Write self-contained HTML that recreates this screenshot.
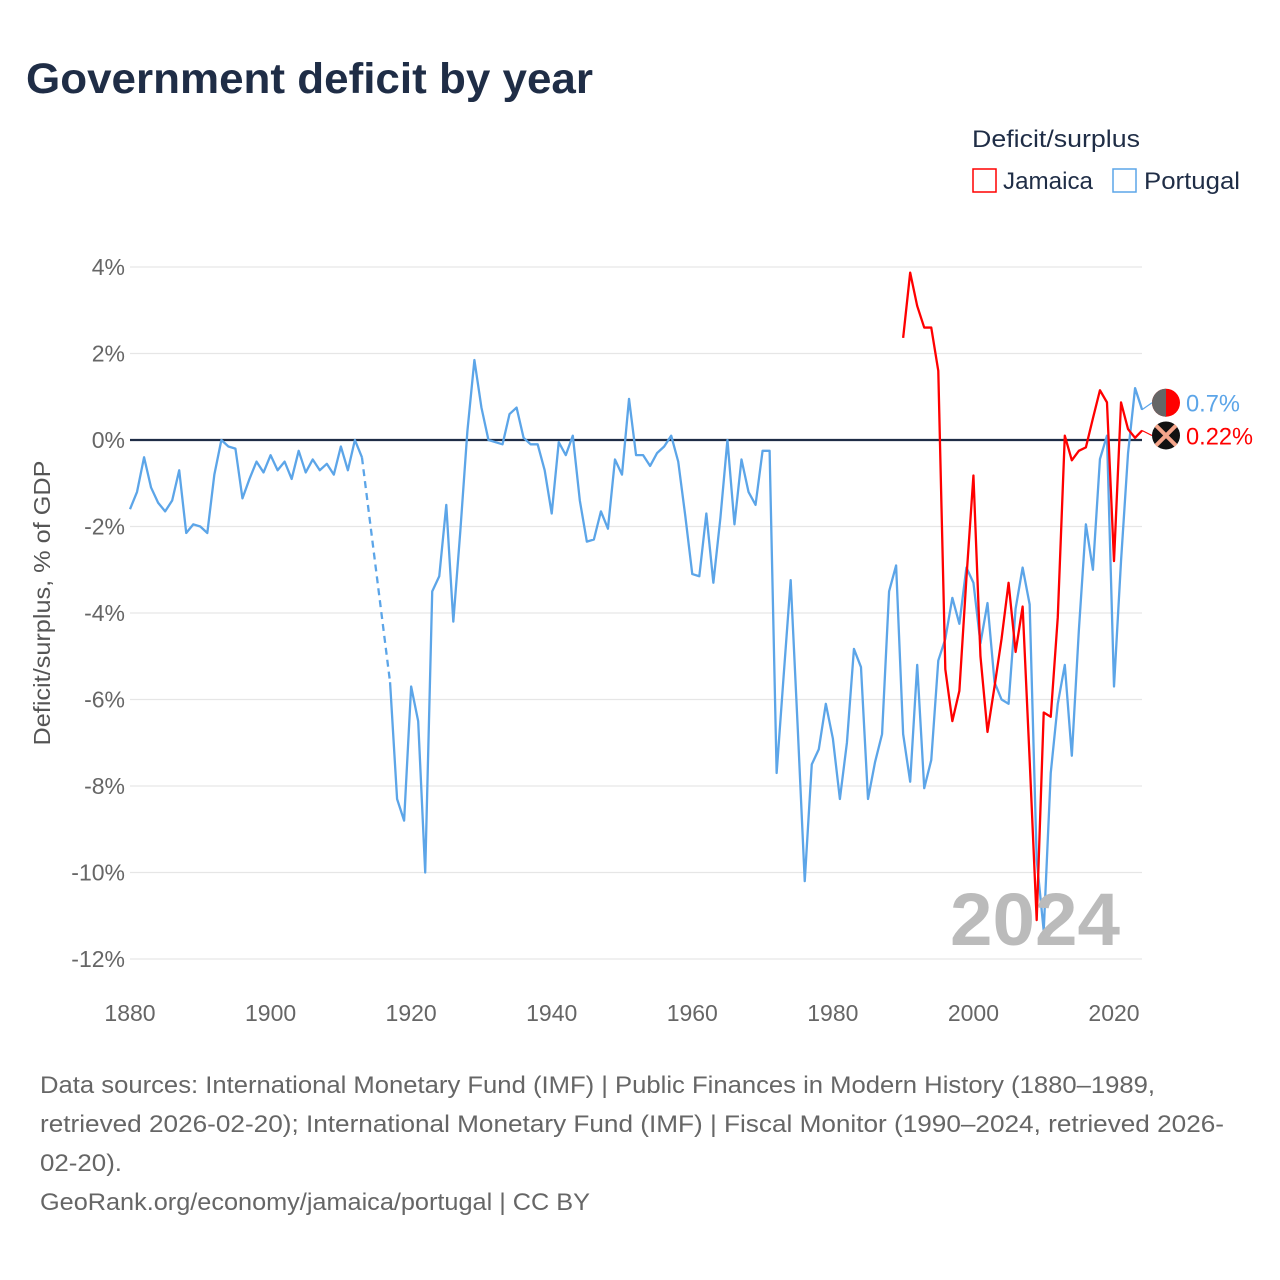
<!DOCTYPE html>
<html><head><meta charset="utf-8">
<style>
body{margin:0;background:#fff;width:1280px;height:1280px;overflow:hidden;font-family:"Liberation Sans",sans-serif;}
svg{position:absolute;left:0;top:0}
</style></head>
<body>
<svg id="chart" width="1280" height="1280">
<text x="26" y="93" font-size="43" font-weight="bold" fill="#1f2d46" textLength="567" lengthAdjust="spacingAndGlyphs">Government deficit by year</text>
<text x="972" y="147" font-size="24" fill="#1f2d46" textLength="168" lengthAdjust="spacingAndGlyphs">Deficit/surplus</text>
<g><rect x="973" y="169" width="23" height="23" fill="none" stroke="#f00" stroke-width="1.5"/><text x="1003" y="189" font-size="24" fill="#1f2d46" textLength="90" lengthAdjust="spacingAndGlyphs">Jamaica</text></g>
<g><rect x="1113" y="169" width="23" height="23" fill="none" stroke="#5ca5e8" stroke-width="1.5"/><text x="1144" y="189" font-size="24" fill="#1f2d46" textLength="96" lengthAdjust="spacingAndGlyphs">Portugal</text></g>
<text transform="translate(50,603) rotate(-90)" text-anchor="middle" font-size="23" fill="#555" textLength="285" lengthAdjust="spacingAndGlyphs">Deficit/surplus, % of GDP</text>
<g id="grid"></g><g id="series"></g>
<text x="950" y="945" font-size="74" font-weight="bold" fill="#bbb" textLength="170" lengthAdjust="spacingAndGlyphs">2024</text>
<g id="ends"></g>
<g font-size="24" fill="#666">
<text x="40" y="1093" textLength="1115" lengthAdjust="spacingAndGlyphs">Data sources: International Monetary Fund (IMF) | Public Finances in Modern History (1880–1989,</text>
<text x="40" y="1132" textLength="1184" lengthAdjust="spacingAndGlyphs">retrieved 2026-02-20); International Monetary Fund (IMF) | Fiscal Monitor (1990–2024, retrieved 2026-</text>
<text x="40" y="1171" textLength="82" lengthAdjust="spacingAndGlyphs">02-20).</text>
<text x="40" y="1210" textLength="550" lengthAdjust="spacingAndGlyphs">GeoRank.org/economy/jamaica/portugal | CC BY</text>
</g>
</svg>
<script>
const yTicks=[4,2,0,-2,-4,-6,-8,-10,-12];
const xTicks=[1880,1900,1920,1940,1960,1980,2000,2020];
const ptStart=1880;
const portugal=[-1.6,-1.2,-0.4,-1.1,-1.45,-1.65,-1.4,-0.7,-2.15,-1.95,-2.0,-2.15,-0.8,0,-0.15,-0.2,-1.35,-0.9,-0.5,-0.75,-0.35,-0.7,-0.5,-0.9,-0.25,-0.75,-0.45,-0.7,-0.55,-0.8,-0.15,-0.7,0,-0.4,null,null,null,-5.6,-8.3,-8.8,-5.7,-6.5,-10,-3.5,-3.15,-1.5,-4.2,-2.1,0.2,1.85,0.75,0,-0.05,-0.1,0.6,0.75,0.05,-0.1,-0.1,-0.7,-1.7,-0.05,-0.35,0.1,-1.4,-2.35,-2.3,-1.65,-2.05,-0.45,-0.8,0.95,-0.35,-0.35,-0.6,-0.3,-0.15,0.1,-0.5,-1.75,-3.1,-3.15,-1.7,-3.3,-1.8,0,-1.95,-0.45,-1.2,-1.5,-0.25,-0.25,-7.7,-5.45,-3.24,-6.65,-10.2,-7.5,-7.15,-6.1,-6.9,-8.3,-7.0,-4.83,-5.25,-8.3,-7.45,-6.8,-3.5,-2.9,-6.8,-7.9,-5.2,-8.05,-7.4,-5.1,-4.6,-3.65,-4.25,-2.95,-3.3,-4.7,-3.77,-5.6,-6.0,-6.1,-3.9,-2.95,-3.8,-9.7,-11.35,-7.7,-6.1,-5.2,-7.3,-4.4,-1.95,-3.0,-0.44,0.1,-5.7,-2.8,-0.3,1.2,0.7];
const jmStart=1990;
const jamaica=[2.36,3.87,3.1,2.6,2.6,1.6,-5.3,-6.5,-5.8,-3.2,-0.82,-5.0,-6.75,-5.7,-4.6,-3.3,-4.9,-3.85,-7.4,-11.1,-6.3,-6.4,-4.1,0.1,-0.47,-0.25,-0.17,0.5,1.15,0.87,-2.8,0.87,0.25,0.05,0.22];
const X=y=>130+(y-1880)*(984/140);
const Y=v=>440-v*43.25;
const NS="http://www.w3.org/2000/svg";
function mk(t,a,p){const e=document.createElementNS(NS,t);for(const k in a)e.setAttribute(k,a[k]);p.appendChild(e);return e;}
const grid=document.getElementById('grid');
yTicks.forEach(v=>{
 if(v!==0){const l=mk('line',{x1:130,x2:1142,y1:Y(v),y2:Y(v),stroke:'#e6e6e6','stroke-width':1.2},grid);
 
 }
 const t=mk('text',{x:125,y:Y(v)+8,'text-anchor':'end','font-size':23,fill:'#666'},grid);t.textContent=v+'%';
 
 
});
xTicks.forEach(y=>{const t=mk('text',{x:X(y),y:1021,'text-anchor':'middle','font-size':23,fill:'#666'},grid);t.textContent=y;
 
 });
const zl=mk('line',{x1:130,x2:1142,y1:Y(0),y2:Y(0),stroke:'#1f2d46','stroke-width':2.2},grid);


const ser=document.getElementById('series');
function drawSeries(data,start,color,name){
 let segs=[],cur=[],lastPt=null,gaps=[];
 data.forEach((v,i)=>{const yr=start+i;
  if(v===null){if(cur.length)segs.push(cur);cur=[];return;}
  const p=[X(yr),Y(v)];
  if(!cur.length&&lastPt&&lastPt.i!==i-1)gaps.push([lastPt.p,p]);
  cur.push(p);lastPt={i,p};});
 if(cur.length)segs.push(cur);
 segs.forEach(s=>{const pl=mk('polyline',{points:s.map(p=>p.join(',')).join(' '),fill:'none',stroke:color,'stroke-width':2.3,'stroke-linejoin':'round'},ser);
  
  });
 gaps.forEach(g=>{const l=mk('line',{x1:g[0][0],y1:g[0][1],x2:g[1][0],y2:g[1][1],stroke:color,'stroke-width':2.3,'stroke-dasharray':'7,5'},ser);
  
  });
}
drawSeries(portugal,ptStart,'#5ca5e8','portugal');
drawSeries(jamaica,jmStart,'#ff0000','jamaica');
const ends=document.getElementById('ends');
function endLabel(v,color,txt,name,dy,w){
 const yy=Y(v)+dy;
 mk('line',{x1:1142,x2:1152,y1:Y(v),y2:yy,stroke:color,'stroke-width':1.2},ends);
 const c=mk('circle',{cx:1166,cy:yy,r:14,fill:name==='portugal'?'#ff0000':'#111'},ends);
 
 
 if(name==='portugal'){mk('path',{d:`M1166 ${yy-14} A14 14 0 0 0 1166 ${yy+14} Z`,fill:'#666'},ends);}
 else{mk('path',{d:`M1156 ${yy-10} L1176 ${yy+10} M1176 ${yy-10} L1156 ${yy+10}`,stroke:'#f4a58a','stroke-width':4},ends);}
 const t=mk('text',{x:1186,y:yy+9,'font-size':24,fill:color,textLength:w,lengthAdjust:'spacingAndGlyphs'},ends);t.textContent=txt;
 
 
}
endLabel(portugal[portugal.length-1],'#5ca5e8','0.7%','portugal',-7,54);
endLabel(jamaica[jamaica.length-1],'#ff0000','0.22%','jamaica',5,67);
</script>
</body></html>
